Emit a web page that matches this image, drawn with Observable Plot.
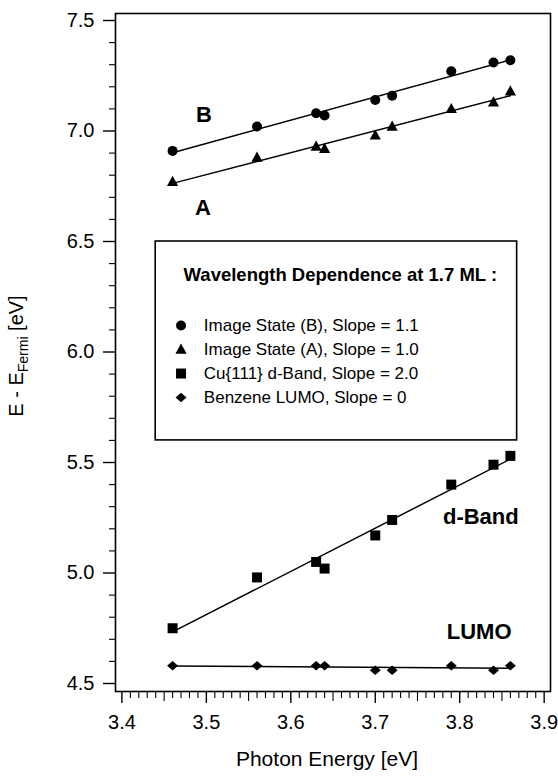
<!DOCTYPE html>
<html>
<head>
<meta charset="utf-8">
<script src="https://cdn.jsdelivr.net/npm/d3@7"></script>
<script src="https://cdn.jsdelivr.net/npm/@observablehq/plot@0.6"></script>
<style>
  body { margin: 0; background: #fff; }
</style>
</head>
<body>
<div id="chart"></div>
<script>
// Photon energies (eV) at which the spectra were taken
const photonEnergy = [3.46, 3.56, 3.63, 3.64, 3.70, 3.72, 3.79, 3.84, 3.86];

// Peak energies relative to the Fermi level (eV)
const imageStateB = [6.91, 7.02, 7.08, 7.07, 7.14, 7.16, 7.27, 7.31, 7.32];
const imageStateA = [6.77, 6.88, 6.93, 6.92, 6.98, 7.02, 7.10, 7.13, 7.18];
const dBand       = [4.75, 4.98, 5.05, 5.02, 5.17, 5.24, 5.40, 5.49, 5.53];
const lumo        = [4.58, 4.58, 4.58, 4.58, 4.56, 4.56, 4.58, 4.56, 4.58];

// Legend text
const legendTitle = "Wavelength Dependence at 1.7 ML :";
const legendLabels = [
  "Image State (B), Slope = 1.1",
  "Image State (A), Slope = 1.0",
  "Cu{111} d-Band, Slope = 2.0",
  "Benzene LUMO, Slope = 0"
];

// Curve labels placed beside the fitted lines
const curveLabels = ["B", "A", "d-Band", "LUMO"];
const curveLabelX = [3.497, 3.496, 3.825, 3.823];
const curveLabelY = [7.071, 6.653, 5.255, 4.731];

// Axis ticks
const xMajor = [3.4, 3.5, 3.6, 3.7, 3.8, 3.9];
const yMajor = [4.5, 5.0, 5.5, 6.0, 6.5, 7.0, 7.5];

// ---- marker shapes (fixed pixel geometry) ----
const squareSym = { draw(ctx) { const h = 5; ctx.moveTo(-h, -h); ctx.lineTo(h, -h); ctx.lineTo(h, h); ctx.lineTo(-h, h); ctx.closePath(); } };
const triangleSym = { draw(ctx) { ctx.moveTo(0, -6); ctx.lineTo(5.6, 4.2); ctx.lineTo(-5.6, 4.2); ctx.closePath(); } };
const diamondSym = { draw(ctx) { ctx.moveTo(0, -4.8); ctx.lineTo(5.5, 0); ctx.lineTo(0, 4.8); ctx.lineTo(-5.5, 0); ctx.closePath(); } };

const series = [
  { values: imageStateB, symbol: "circle", r: 5 },
  { values: imageStateA, symbol: triangleSym, r: 5 },
  { values: dBand,       symbol: squareSym, r: 5 },
  { values: lumo,        symbol: diamondSym, r: 5 }
];

// minor ticks
const xMinor = d3.range(340, 391).map(d => d / 100).filter(d => Math.round(d * 100) % 5 !== 0);
const xMid = d3.range(345, 391, 10).map(d => d / 100);
const yMinor = d3.range(45, 76).map(d => d / 10).filter(d => Math.round(d * 10) % 5 !== 0);

// legend layout (data units)
const box = { x1: 3.44, x2: 3.868, y1: 5.6, y2: 6.5 };
const legendSymX = 3.47, legendTextX = 3.497, legendTitleX = 3.473;
const legendTitleY = 6.346;
const legendRowY = legendLabels.map((_, i) => 6.12 - i * 0.1087);

const marks = [
  Plot.frame({ stroke: "black", strokeWidth: 1.6 }),
  Plot.axisX({ ticks: xMajor, tickSize: 12, tickPadding: 11, tickFormat: d => d.toFixed(1), fontSize: 20, strokeWidth: 1.4, label: null }),
  Plot.axisX({ ticks: xMid, tickSize: 10, tickFormat: () => "", strokeWidth: 1.1, label: null }),
  Plot.axisX({ ticks: xMinor, tickSize: 7, tickFormat: () => "", strokeWidth: 1.1, label: null }),
  Plot.axisY({ ticks: yMajor, tickSize: 12, tickPadding: 9, tickFormat: d => d.toFixed(1), fontSize: 20, strokeWidth: 1.4, label: null }),
  Plot.axisY({ ticks: yMinor, tickSize: 6, tickFormat: () => "", strokeWidth: 1.1, label: null })
];

for (const s of series) {
  const rows = photonEnergy.map((x, i) => ({ x, y: s.values[i] }));
  marks.push(Plot.linearRegressionY(rows, { x: "x", y: "y", ci: 0, stroke: "black", strokeWidth: 1.5 }));
  marks.push(Plot.dot(rows, { x: "x", y: "y", symbol: () => s.symbol, r: s.r, fill: "black", stroke: "none" }));
}

// legend box
marks.push(Plot.rect([box], { x1: "x1", x2: "x2", y1: "y1", y2: "y2", fill: "white", stroke: "black", strokeWidth: 1.6 }));
marks.push(Plot.text([legendTitle], { x: legendTitleX, y: legendTitleY, text: d => d, textAnchor: "start", fontWeight: "bold", fontSize: 18.5 }));
legendLabels.forEach((label, i) => {
  marks.push(Plot.dot([label], { x: legendSymX, y: legendRowY[i], symbol: () => series[i].symbol, r: series[i].r, fill: "black", stroke: "none" }));
  marks.push(Plot.text([label], { x: legendTextX, y: legendRowY[i], text: d => d, textAnchor: "start", fontSize: 17 }));
});

// curve labels
marks.push(Plot.text(curveLabels, { x: (d, i) => curveLabelX[i], y: (d, i) => curveLabelY[i], text: d => d, fontWeight: "bold", fontSize: 22 }));

// x-axis title
marks.push(Plot.text(["Photon Energy [eV]"], { frameAnchor: "bottom", dy: 74, dx: -6, text: d => d, fontSize: 21 }));

const svg = Plot.plot({
  width: 558,
  height: 778,
  marginLeft: 115,
  marginRight: 8,
  marginTop: 13,
  marginBottom: 87,
  x: { domain: [3.3924, 3.9075] },
  y: { domain: [4.4638, 7.5317] },
  symbol: { type: "identity" },
  style: { fontFamily: "'Liberation Sans', Arial, sans-serif", background: "white", color: "black" },
  marks
});

// y-axis title with subscript
const yTitle = d3.select(svg).append("text")
  .attr("transform", "translate(23,356) rotate(-90)")
  .attr("text-anchor", "middle")
  .attr("fill", "black")
  .attr("font-size", 20);
yTitle.append("tspan").text("E - E");
yTitle.append("tspan").attr("font-size", 14).attr("dy", 5).text("Fermi");
yTitle.append("tspan").attr("dy", -5).text(" [eV]");

document.getElementById("chart").appendChild(svg);
</script>
</body>
</html>
